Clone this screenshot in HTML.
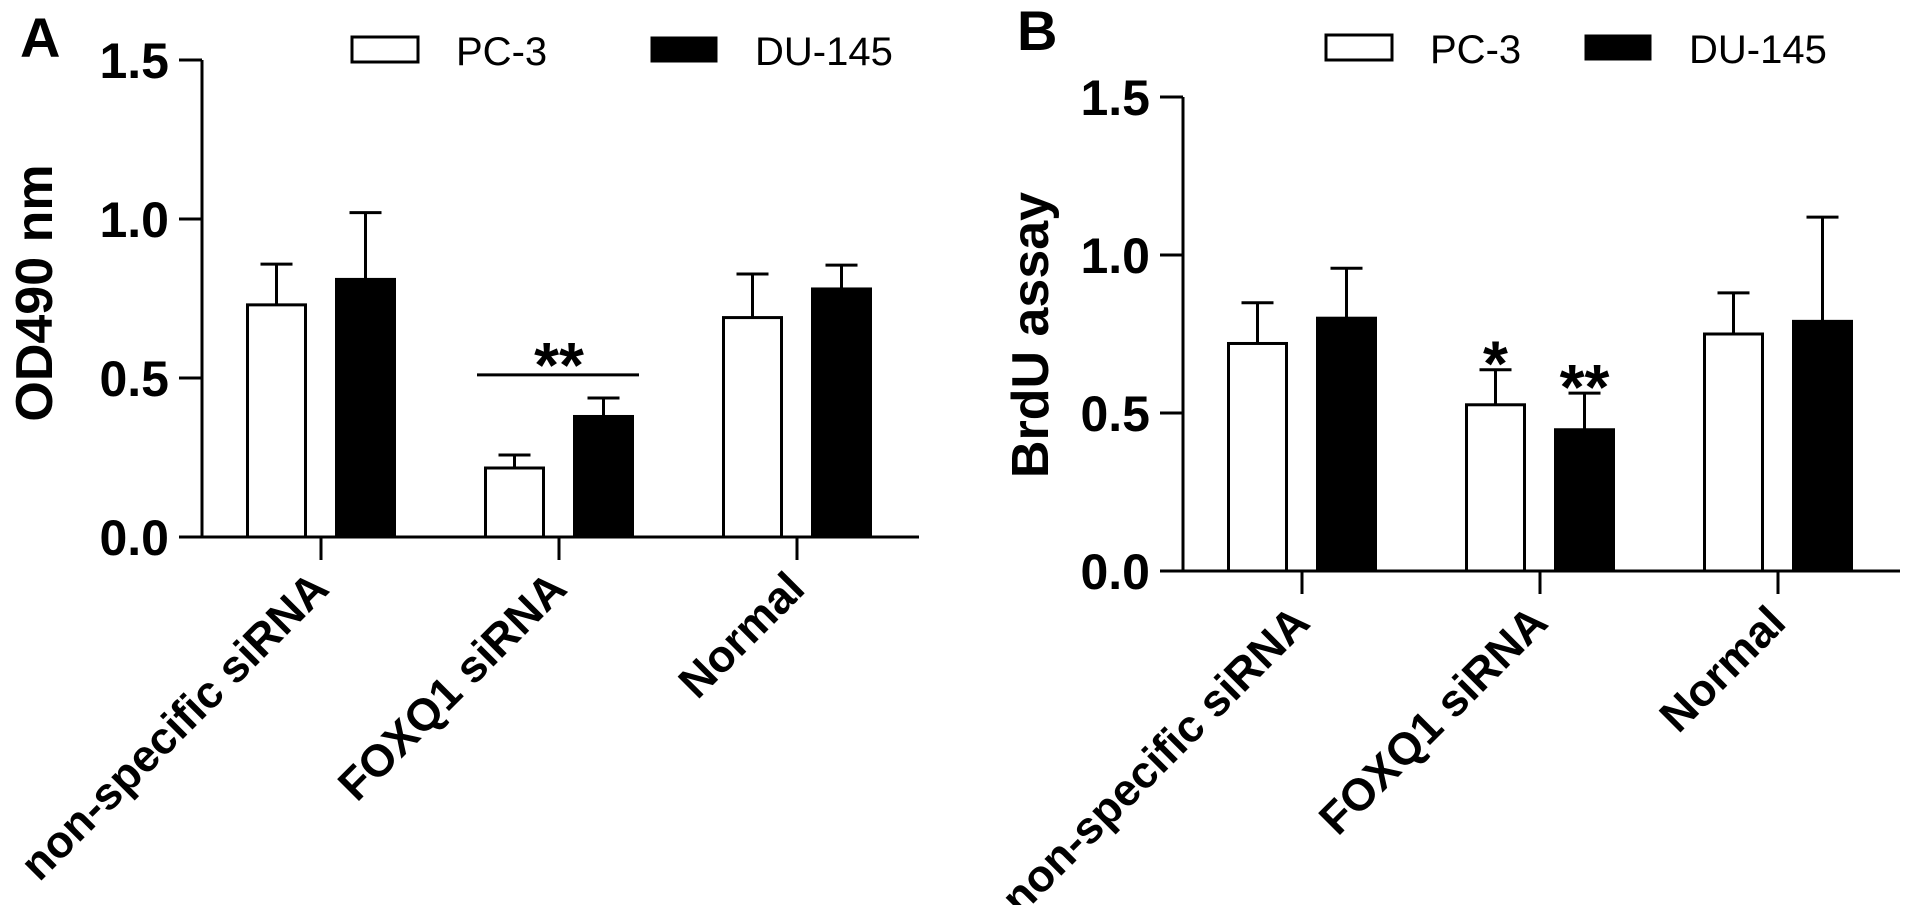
<!DOCTYPE html>
<html><head><meta charset="utf-8"><style>
html,body{margin:0;padding:0;background:#fff;overflow:hidden;}
svg{display:block;font-family:"Liberation Sans",Arial,sans-serif;}
</style></head><body>
<svg id="fig" width="1913" height="905" viewBox="0 0 1913 905" xmlns="http://www.w3.org/2000/svg"></svg>
<script>
const categories = ["non-specific siRNA", "FOXQ1 siRNA", "Normal"];
const seriesNames = ["PC-3", "DU-145"];
const yTicks = [0.0, 0.5, 1.0, 1.5];
const yTickLabels = ["0.0", "0.5", "1.0", "1.5"];
const aPC3 = [0.73, 0.217, 0.69];
const aPC3Err = [0.858, 0.258, 0.827];
const aDU = [0.81, 0.379, 0.78];
const aDUErr = [1.02, 0.437, 0.855];
const bPC3 = [0.72, 0.526, 0.75];
const bPC3Err = [0.849, 0.637, 0.88];
const bDU = [0.80, 0.447, 0.79];
const bDUErr = [0.958, 0.563, 1.12];

const NS = "http://www.w3.org/2000/svg";
const svg = document.getElementById("fig");
function el(tag, attrs, parent, text) {
  const e = document.createElementNS(NS, tag);
  for (const k in attrs) e.setAttribute(k, attrs[k]);
  if (text !== undefined) e.textContent = text;
  (parent || svg).appendChild(e);
  return e;
}

function panel(cfg) {
  const g = el("g", {});
  
  
  const y = v => cfg.y0 - v * cfg.pxPerUnit;
  const xc = i => cfg.ax + 119 + i * 238;
  const L = el("text", {x: cfg.letterX, y: cfg.letterY, "font-size": 56, "font-weight": "bold"}, g, cfg.letter);
  
  
  const ya = el("line", {x1: cfg.ax, y1: y(1.5), x2: cfg.ax, y2: cfg.y0, stroke: "#000", "stroke-width": 3}, g);
  
  
  yTicks.forEach((t, i) => {
    const tk = el("line", {x1: cfg.ax - 23, y1: y(t), x2: cfg.ax, y2: y(t), stroke: "#000", "stroke-width": 3}, g);
    
    
    const tl = el("text", {x: cfg.ax - 33, y: y(t) + 18, "font-size": 50, "font-weight": "bold", "text-anchor": "end"}, g, yTickLabels[i]);
    
    
  });
  const yt = el("text", {x: 0, y: 0, "font-size": 52, "font-weight": "bold", "text-anchor": "middle",
    transform: `translate(${cfg.titleX},${cfg.titleY}) rotate(-90)`}, g, cfg.yTitle);
  
  
  const xa = el("line", {x1: cfg.ax, y1: cfg.y0, x2: cfg.ax + 717, y2: cfg.y0, stroke: "#000", "stroke-width": 3}, g);
  
  
  categories.forEach((c, i) => {
    const tk = el("line", {x1: xc(i), y1: cfg.y0, x2: xc(i), y2: cfg.y0 + 23, stroke: "#000", "stroke-width": 3}, g);
    
    
    const tl = el("text", {x: 0, y: 0, "font-size": 45, "font-weight": "bold", "text-anchor": "end",
      transform: `translate(${xc(i) + 10},${cfg.y0 + 54}) rotate(-45)`}, g, c);
    
    
  });
  const series = [[cfg.pc3, cfg.pc3Err, "#fff", -44.5], [cfg.du, cfg.duErr, "#000", 44.5]];
  series.forEach((s, si) => {
    s[0].forEach((v, i) => {
      const cx = xc(i) + s[3];
      const eb = el("line", {x1: cx, y1: y(s[1][i]), x2: cx, y2: y(v), stroke: "#000", "stroke-width": 3}, g);
      
      
      const cap = el("line", {x1: cx - 16, y1: y(s[1][i]), x2: cx + 16, y2: y(s[1][i]), stroke: "#000", "stroke-width": 3}, g);
      
      
      const r = el("rect", {x: cx - 29, y: y(v), width: 58, height: cfg.y0 - y(v), fill: s[2], stroke: "#000", "stroke-width": 3}, g);
      
      
    });
  });
  const lg = el("g", {}, g);
  
  
  cfg.legendX.forEach((lx, i) => {
    const box = el("rect", {x: lx, y: cfg.legendY, width: 66, height: 25, fill: i ? "#000" : "#fff", stroke: "#000", "stroke-width": i ? 1 : 3}, lg);
    
    
    const t = el("text", {x: lx + 104, y: cfg.legendY + 28, "font-size": 40}, lg, seriesNames[i]);
    
    
  });
  return {g, y, xc};
}

const A = panel({name: "panel-a", letter: "A", letterX: 20, letterY: 57, ax: 202, y0: 537, pxPerUnit: 318,
  yTitle: "OD490 nm", titleX: 52, titleY: 293, pc3: aPC3, pc3Err: aPC3Err, du: aDU, duErr: aDUErr,
  legendX: [352, 651], legendY: 37});
const B = panel({name: "panel-b", letter: "B", letterX: 1017, letterY: 50, ax: 1183, y0: 571, pxPerUnit: 316,
  yTitle: "BrdU assay", titleX: 1048, titleY: 335, pc3: bPC3, pc3Err: bPC3Err, du: bDU, duErr: bDUErr,
  legendX: [1326, 1585], legendY: 35});

const sigLine = el("line", {x1: 477, y1: A.y(0.51), x2: 639, y2: A.y(0.51), stroke: "#000", "stroke-width": 3}, A.g);


const s1 = el("text", {x: A.xc(1), y: A.y(0.51) + 12, "font-size": 64, "font-weight": "bold", "text-anchor": "middle"}, A.g, "**");


const s2 = el("text", {x: B.xc(1) - 44.5, y: B.y(bPC3Err[1]) + 16, "font-size": 64, "font-weight": "bold", "text-anchor": "middle"}, B.g, "*");


const s3 = el("text", {x: B.xc(1) + 44.5, y: B.y(bDUErr[1]) + 16, "font-size": 64, "font-weight": "bold", "text-anchor": "middle"}, B.g, "**");


</script>
</body></html>
